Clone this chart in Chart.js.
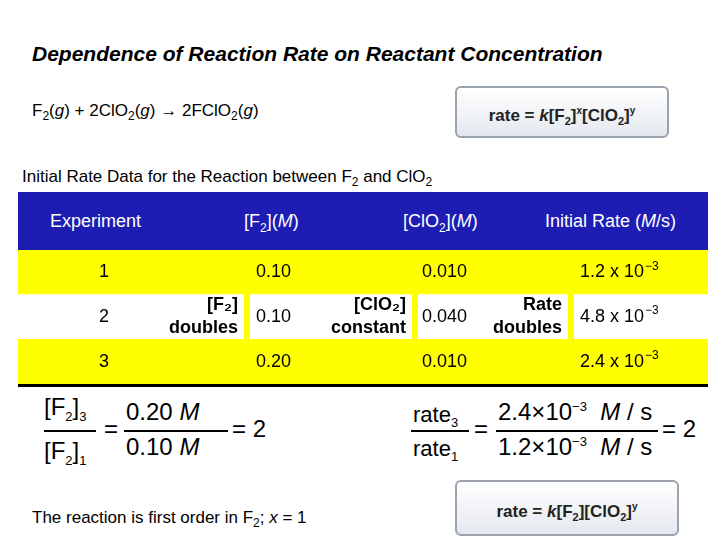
<!DOCTYPE html>
<html><head><meta charset="utf-8">
<script src="https://cdn.jsdelivr.net/npm/chart.js@4"></script>
<style>
body{margin:0;width:720px;height:540px;background:#fff;font-family:Arial,"Liberation Sans",sans-serif;position:relative;overflow:hidden}
.a{position:absolute;white-space:nowrap}
.box{position:absolute;border:2px solid #9aa3ad;border-radius:6px;background:linear-gradient(#ffffff,#e4e8ee);font-weight:bold;font-size:17px;text-align:center;color:#222}
.hd{position:absolute;left:18px;top:192px;width:690px;height:58px;background:#1d1db4;color:#fff;font-size:18px}
.line{position:absolute;border-top:2px solid #000}
</style></head><body>
<div class="a" style="left:32px;top:42px;font-size:21px;font-style:italic;font-weight:bold">Dependence of Reaction Rate on Reactant Concentration</div>
<div class="a" style="left:32px;top:101px;font-size:17px">F<sub style="font-size:12px">2</sub>(<i>g</i>) + 2ClO<sub style="font-size:12px">2</sub>(<i>g</i>) → 2FClO<sub style="font-size:12px">2</sub>(<i>g</i>)</div>
<div class="box" style="left:455px;top:86px;width:210px;height:48px;line-height:46px">rate = <i>k</i>[F<sub style="font-size:11px">2</sub>]<sup style="font-size:10px">x</sup>[ClO<sub style="font-size:11px">2</sub>]<sup style="font-size:10px">y</sup></div>
<div class="a" style="left:22px;top:167px;font-size:17px">Initial Rate Data for the Reaction between F<sub style="font-size:12px">2</sub> and ClO<sub style="font-size:12px">2</sub></div>
<div class="hd">
 <span class="a" style="left:32px;top:19px">Experiment</span>
 <span class="a" style="left:226px;top:19px">[F<sub style="font-size:12px">2</sub>](<i>M</i>)</span>
 <span class="a" style="left:385px;top:19px">[ClO<sub style="font-size:12px">2</sub>](<i>M</i>)</span>
 <span class="a" style="left:527px;top:19px">Initial Rate (<i>M</i>/s)</span>
</div>
<div style="position:absolute;left:18px;top:250px;width:690px;height:134px;border-bottom:3px solid #000"><canvas id="tbl"></canvas></div>

<div class="a" style="left:44px;top:393px;font-size:24px;line-height:28px">[F<sub style="font-size:13px">2</sub>]<sub style="font-size:13px">3</sub><br><span style="display:inline-block;margin-top:6px">[F<sub style="font-size:13px">2</sub>]<sub style="font-size:13px">1</sub></span></div>
<div class="line" style="left:44px;top:430px;width:52px"></div>
<div class="a" style="left:104px;top:415px;font-size:24px">=</div>
<div class="a" style="left:126px;top:398px;font-size:24px">0.20 <i>M</i></div>
<div class="line" style="left:124px;top:430px;width:104px"></div>
<div class="a" style="left:126px;top:433px;font-size:24px">0.10 <i>M</i></div>
<div class="a" style="left:232px;top:415px;font-size:24px">= 2</div>

<div class="a" style="left:413px;top:402px;font-size:22px">rate<sub style="font-size:13px">3</sub></div>
<div class="line" style="left:411px;top:430px;width:58px"></div>
<div class="a" style="left:413px;top:436px;font-size:22px">rate<sub style="font-size:13px">1</sub></div>
<div class="a" style="left:474px;top:415px;font-size:24px">=</div>
<div class="a" style="left:498px;top:398px;font-size:24px">2.4×10<sup style="font-size:13px">−3</sup> &nbsp;<i>M</i> / s</div>
<div class="line" style="left:496px;top:430px;width:162px"></div>
<div class="a" style="left:498px;top:433px;font-size:24px">1.2×10<sup style="font-size:13px">−3</sup> &nbsp;<i>M</i> / s</div>
<div class="a" style="left:662px;top:415px;font-size:24px">= 2</div>

<div class="a" style="left:32px;top:508px;font-size:17px">The reaction is first order in F<sub style="font-size:12px">2</sub>; <i>x</i> = 1</div>
<div class="box" style="left:455px;top:480px;width:220px;height:52px;line-height:50px">rate = <i>k</i>[F<sub style="font-size:11px">2</sub>][ClO<sub style="font-size:11px">2</sub>]<sup style="font-size:10px">y</sup></div>

<script>
const experiments = ["1", "2", "3"];
const f2Conc = ["0.10", "0.10", "0.20"];
const clo2Conc = ["0.010", "0.040", "0.010"];
const rateMant = ["1.2", "4.8", "2.4"];
const rateExp = ["−3", "−3", "−3"];
const rowBands = [1, 1, 1];
const rowColors = ["#ffff00", "#ffffff", "#ffff00"];

const cellText = {
    id: "cellText",
    afterDatasetsDraw(chart) {
        const c = chart.ctx;
        const ys = chart.scales.y;
        c.save();
        c.fillStyle = "#000";
        c.textBaseline = "middle";
        experiments.forEach(function (e, i) {
            const y = ys.getPixelForValue(i);
            c.font = "18px Arial";
            c.textAlign = "left";
            c.fillText(e, 81, y);
            c.fillText(f2Conc[i], 238, y);
            c.fillText(clo2Conc[i], 404, y);
            const s = rateMant[i] + " x 10";
            c.fillText(s, 562, y);
            const w = c.measureText(s).width;
            c.font = "12px Arial";
            c.fillText(rateExp[i], 562 + w + 1, y - 6);
        });
        // annotations on row 2
        const y2 = ys.getPixelForValue(1);
        c.font = "bold 18px Arial";
        c.textAlign = "right";
        c.fillText("[F₂]", 220, y2 - 12);
        c.fillText("doubles", 220, y2 + 11);
        c.fillText("[ClO₂]", 388, y2 - 12);
        c.fillText("constant", 388, y2 + 11);
        c.fillText("Rate", 544, y2 - 12);
        c.fillText("doubles", 544, y2 + 11);
        c.fillStyle = "#ffff00";
        [226, 394, 550].forEach(function (x) { c.fillRect(x, y2 - 26, 6, 52); });
        c.restore();
    }
};

new Chart(document.getElementById("tbl").getContext("2d"), {
    type: "bar",
    data: {
        labels: experiments,
        datasets: [{ data: rowBands, backgroundColor: rowColors, borderWidth: 0,
            barPercentage: 1, categoryPercentage: 1 }]
    },
    options: {
        indexAxis: "y",
        responsive: true,
        maintainAspectRatio: false,
        animation: false,
        layout: { padding: 0 },
        plugins: { legend: { display: false }, tooltip: { enabled: false } },
        scales: {
            x: { display: false, min: 0, max: 1 },
            y: { display: false }
        }
    },
    plugins: [cellText]
});
</script>
</body></html>
